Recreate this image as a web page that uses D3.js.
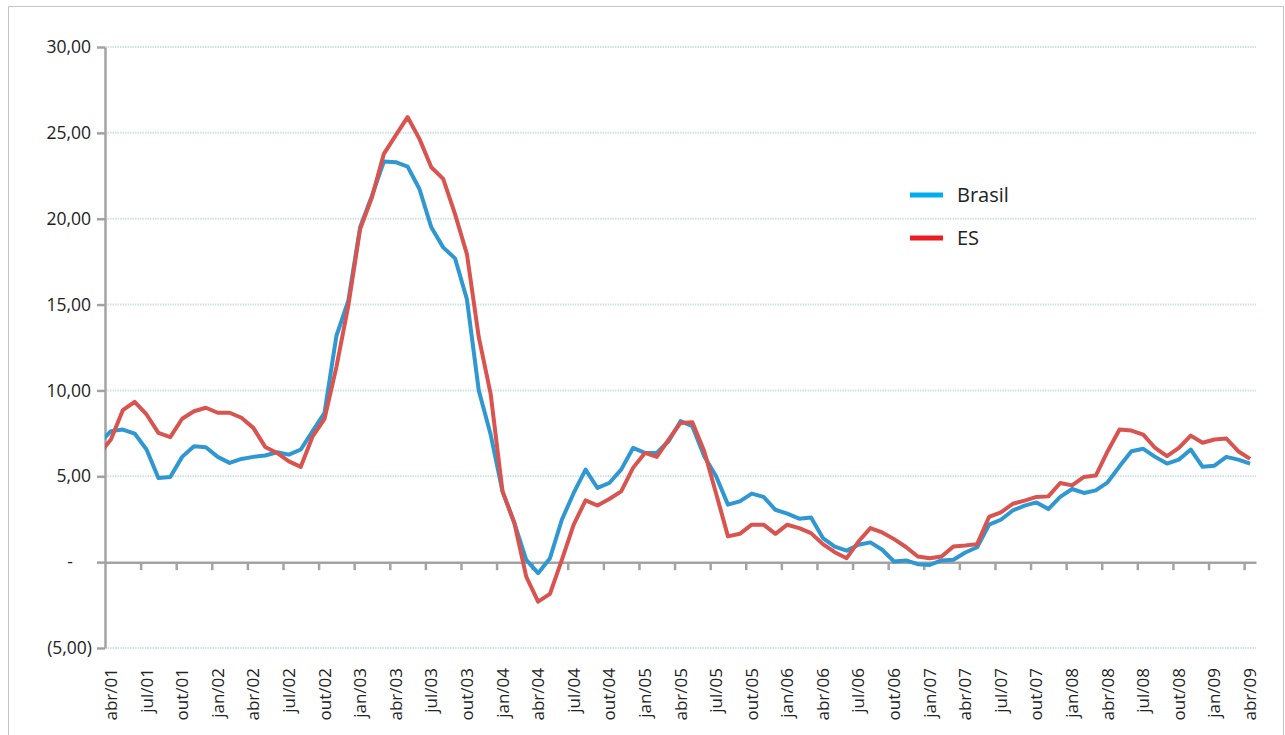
<!DOCTYPE html>
<html>
<head>
<meta charset="utf-8">
<style>
  html, body {
    margin: 0;
    padding: 0;
    background: #fff;
  }
  svg {
    display: block;
    font-family: "Open Sans", sans-serif;
  }
  .grid line {
    stroke: #cfe2e6;
    stroke-width: 2;
    stroke-dasharray: 1.5, 1;
  }
  .axis path, .axis line {
    stroke: #a3a3a3;
    stroke-width: 2.5;
  }
  .axis text {
    fill: #222;
  }
  .series {
    fill: none;
    stroke-width: 4;
    stroke-linejoin: round;
  }
</style>
<script src="https://cdn.jsdelivr.net/npm/d3@7/dist/d3.min.js"></script>
</head>
<body>
<svg id="chart" width="1285" height="735"></svg>
<script>
  // first value is mar/01 (clipped at the axis), then abr/01 .. abr/09
  var brasil = [
    6.9, 7.63, 7.72, 7.49, 6.56, 4.90, 4.96, 6.13, 6.75, 6.69, 6.13, 5.78, 6.01,
    6.13, 6.21, 6.40, 6.26, 6.56, 7.63, 8.70, 13.17, 15.21, 19.5, 21.34, 23.33,
    23.29, 23.04, 21.73, 19.5, 18.33, 17.69, 15.31, 10.0, 7.43, 4.12, 2.28, 0.13,
    -0.64, 0.23, 2.47, 4.03, 5.39, 4.32, 4.61, 5.39, 6.65, 6.36, 6.36, 7.04, 8.21,
    7.92, 6.17, 5.0, 3.35, 3.54, 3.99, 3.80, 3.05, 2.82, 2.53, 2.60, 1.40, 0.91,
    0.67, 1.01, 1.15, 0.72, 0.04, 0.10, -0.12, -0.16, 0.10, 0.14, 0.56, 0.87,
    2.18, 2.47, 3.01, 3.29, 3.48, 3.09, 3.80, 4.26, 4.03, 4.18, 4.65, 5.58, 6.46,
    6.60, 6.13, 5.74, 5.97, 6.56, 5.55, 5.62, 6.13, 5.97, 5.74
  ];
  var es = [
    6.3, 7.14, 8.85, 9.34, 8.60, 7.53, 7.28, 8.35, 8.79, 8.99, 8.70, 8.70, 8.41,
    7.82, 6.71, 6.36, 5.87, 5.55, 7.33, 8.35, 11.36, 14.92, 19.4, 21.25, 23.78,
    24.85, 25.92, 24.65, 23.0, 22.32, 20.27, 17.94, 13.1, 9.8, 4.12, 2.28, -0.84,
    -2.30, -1.85, 0.13, 2.18, 3.60, 3.30, 3.68, 4.12, 5.49, 6.36, 6.13, 7.14, 8.11,
    8.15, 6.46, 4.0, 1.50, 1.65, 2.18, 2.18, 1.65, 2.18, 1.98, 1.69, 1.05, 0.58,
    0.23, 1.20, 1.98, 1.73, 1.34, 0.88, 0.33, 0.23, 0.33, 0.91, 0.97, 1.05,
    2.63, 2.90, 3.40, 3.58, 3.80, 3.83, 4.61, 4.47, 4.96, 5.04, 6.46, 7.72, 7.66,
    7.43, 6.65, 6.17, 6.65, 7.37, 6.95, 7.14, 7.20, 6.46, 6.01
  ];
  var tickLabels = [
    "abr/01", "jul/01", "out/01", "jan/02", "abr/02", "jul/02", "out/02",
    "jan/03", "abr/03", "jul/03", "out/03", "jan/04", "abr/04", "jul/04",
    "out/04", "jan/05", "abr/05", "jul/05", "out/05", "jan/06", "abr/06",
    "jul/06", "out/06", "jan/07", "abr/07", "jul/07", "out/07", "jan/08",
    "abr/08", "jul/08", "out/08", "jan/09", "abr/09"
  ];
  var yTicks = [-5, 0, 5, 10, 15, 20, 25, 30];
  var seriesNames = ["Brasil", "ES"];

  var nMonths = 97; // abr/01 .. abr/09
  var plotLeft = 105, plotRight = 1256, plotTop = 47, plotBottom = 648;

  var svg = d3.select('#chart');

  // outer frame of the original figure
  svg.append('path')
    .attr('d', 'M8.5,736 V6.5 H1283.5 V736')
    .attr('fill', 'none')
    .attr('stroke', '#c4c4c4')
    .attr('stroke-width', 1);

  var x = d3.scaleLinear().domain([0, nMonths]).range([plotLeft, plotRight]);
  var y = d3.scaleLinear().domain([-5, 30]).range([plotBottom, plotTop]);

  // gridlines
  svg.append('g').attr('class', 'grid')
    .selectAll('line')
    .data(yTicks.filter(d => d !== 0))
    .enter().append('line')
    .attr('x1', plotLeft)
    .attr('x2', plotRight)
    .attr('y1', d => y(d))
    .attr('y2', d => y(d));

  var fmt = d => {
    if (d === 0) return '-';
    var s = d3.format('.2f')(Math.abs(d)).replace('.', ',');
    return d < 0 ? '(' + s + ')' : s;
  };

  var yAxis = svg.append('g')
    .attr('class', 'axis')
    .attr('transform', `translate(${plotLeft},0)`)
    .call(d3.axisLeft(y).tickValues(yTicks).tickSize(8).tickSizeOuter(0).tickFormat(fmt));
  yAxis.selectAll('text')
    .attr('font-size', 17.5)
    .attr('x', d => d === 0 ? -32 : d < 0 ? -13 : -14)
    .style('font-family', '"Open Sans", sans-serif');

  // x axis at zero, ticks at category boundaries every 3 months
  svg.append('g')
    .attr('class', 'axis')
    .attr('transform', `translate(0,${y(0)})`)
    .call(d3.axisBottom(x).tickValues(d3.range(3, nMonths, 3)).tickSize(8).tickSizeOuter(0).tickFormat(''));

  // rotated category labels at category centres
  svg.append('g')
    .selectAll('text')
    .data(tickLabels)
    .enter().append('text')
    .attr('transform', (d, i) => `translate(${x(i * 3 + 0.5) + 6},668) rotate(-90)`)
    .attr('text-anchor', 'end')
    .attr('font-size', 17)
    .attr('fill', '#222')
    .text(d => d);

  svg.append('clipPath').attr('id', 'plot-clip')
    .append('rect')
    .attr('x', plotLeft).attr('y', 0)
    .attr('width', plotRight - plotLeft).attr('height', 735);

  var line = d3.line()
    .x((d, i) => x(i - 1 + 0.5))
    .y(d => y(d));

  var plotColors = ['#2f97d1', '#d9534f'];
  var legendColors = ['#00aeef', '#ed1c24'];

  svg.append('g').attr('clip-path', 'url(#plot-clip)')
    .selectAll('path')
    .data([brasil, es])
    .enter().append('path')
    .attr('class', 'series')
    .attr('stroke', (d, i) => plotColors[i])
    .attr('d', line);

  // legend
  var legend = svg.append('g')
    .selectAll('g')
    .data(seriesNames)
    .enter().append('g')
    .attr('transform', (d, i) => `translate(910,${195 + i * 43})`);
  legend.append('line')
    .attr('x1', 0).attr('x2', 33)
    .attr('stroke', (d, i) => legendColors[i])
    .attr('stroke-width', 5);
  legend.append('text')
    .attr('x', 47)
    .attr('dy', '0.35em')
    .attr('font-size', 20)
    .attr('fill', '#222')
    .text(d => d);
</script>
</body>
</html>
